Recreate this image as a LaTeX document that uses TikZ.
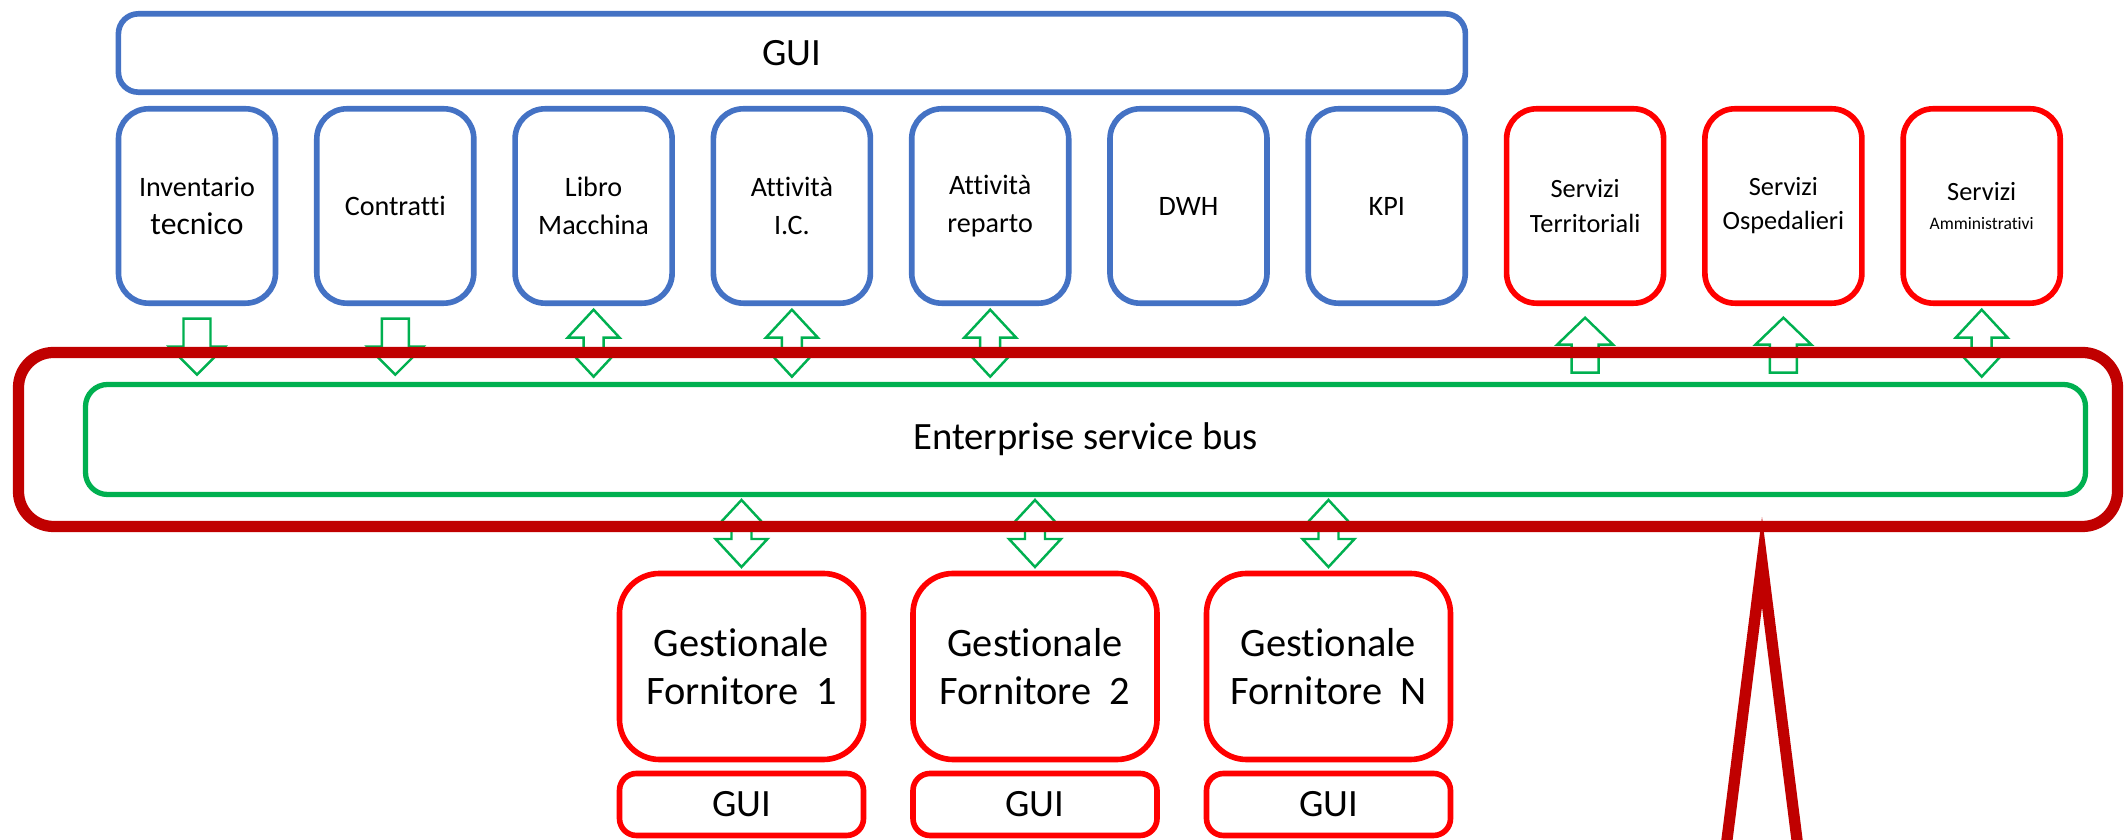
\documentclass[tikz,border=0pt]{standalone}
\usepackage{fontspec}
\setmainfont{Carlito}[Ligatures=NoCommon]
\usetikzlibrary{calc,positioning}
\definecolor{boxblue}{HTML}{4472C4}
\definecolor{boxred}{HTML}{FF0000}
\definecolor{busgreen}{HTML}{00B050}
\definecolor{darkred}{HTML}{C00000}
\tikzset{
  modbox/.style={draw, line width=1.6pt, rounded corners=0.3cm, minimum width=1.57cm,
    minimum height=1.944cm, outer sep=0pt, inner sep=1pt, align=center},
  appbox/.style={modbox, boxblue, text=black, font=\fontsize{8}{11}\selectfont},
  srvbox/.style={modbox, boxred, text=black, font=\fontsize{7.5}{9.7}\selectfont},
  guibar/.style={draw=boxblue, line width=1.6pt, rounded corners=0.2cm, minimum width=13.47cm,
    minimum height=0.784cm, outer sep=0pt, font=\fontsize{11}{13}\selectfont},
  busbar/.style={draw=busgreen, line width=1.5pt, rounded corners=0.22cm, minimum width=20cm,
    minimum height=1.1cm, outer sep=0pt, font=\fontsize{11}{13}\selectfont},
  gestbox/.style={draw=boxred, line width=1.6pt, rounded corners=0.4cm, minimum width=2.44cm,
    minimum height=1.86cm, outer sep=0pt, align=center, font=\fontsize{11.5}{13.6}\selectfont},
  gestgui/.style={draw=boxred, line width=1.6pt, rounded corners=0.17cm, minimum width=2.44cm,
    minimum height=0.62cm, outer sep=0pt, font=\fontsize{11}{13}\selectfont},
  esbframe/.style={draw=darkred, line width=3.2pt, rounded corners=0.35cm, outer sep=0pt},
  arrline/.style={draw=busgreen, fill=white, line width=0.7pt, line join=miter},
  dnarr/.pic={\path[arrline] (-0.135,0) -- (0.135,0) -- (0.135,-0.28) -- (0.28,-0.28)
    -- (0,-0.56) -- (-0.28,-0.28) -- (-0.135,-0.28) -- cycle;},
  uparr/.pic={\path[arrline] (0,0) -- (0.28,-0.27) -- (0.135,-0.27) -- (0.135,-0.55)
    -- (-0.135,-0.55) -- (-0.135,-0.27) -- (-0.28,-0.27) -- cycle;},
  dblarr/.pic={\path[arrline] (0,0) -- (0.26,-0.28) -- (0.1,-0.28) -- (0.1,-0.39) -- (0.26,-0.39)
    -- (0,-0.67) -- (-0.26,-0.39) -- (-0.1,-0.39) -- (-0.1,-0.28) -- (-0.26,-0.28) -- cycle;}
}

\begin{document}
\begin{tikzpicture}
  \useasboundingbox (0,0) rectangle (21.26,8.4);
  \clip (0,0) rectangle (21.26,8.4);
  % moduli applicativi
  \node[appbox] (inv) at (1.97,6.34) {Inventario\\{\fontsize{9}{11}\selectfont tecnico}};
  \node[appbox, right=0.413cm of inv] (contr) {Contratti};
  \node[appbox, right=0.413cm of contr] (libro) {Libro\\Macchina};
  \node[appbox, right=0.413cm of libro] (attic) {Attività\\I.C.};
  \node[appbox, right=0.413cm of attic] (attrep) {Attività\\reparto};
  \node[appbox, right=0.413cm of attrep] (dwh) {DWH};
  \node[appbox, right=0.413cm of dwh] (kpi) {KPI};
  % servizi
  \node[srvbox, right=0.413cm of kpi] (srvter) {Servizi\\Territoriali};
  \node[srvbox, right=0.413cm of srvter] (srvosp) {Servizi\\Ospedalieri};
  \node[srvbox, right=0.413cm of srvosp] (srvamm) {Servizi\\[-1.5pt]{\fontsize{5}{6}\selectfont Amministrativi}};
  % GUI
  \coordinate (guimid) at ($(inv.north west)!0.5!(kpi.north east)$);
  \node[guibar, above=0.166cm of guimid] (gui) {GUI};
  % bus
  \node[busbar] (bus) at (10.855,4.005) {Enterprise service bus};
  % gestionali fornitori
  \node[gestbox] (gest1) at (7.415,1.735) {Gestionale\\Fornitore\hspace{0.45em}1};
  \node[gestbox, right=0.495cm of gest1] (gest2) {Gestionale\\Fornitore\hspace{0.45em}2};
  \node[gestbox, right=0.495cm of gest2] (gestn) {Gestionale\\Fornitore\hspace{0.45em}N};
  \foreach \g in {gest1,gest2,gestn} {
    \node[gestgui, below=0.14cm of \g] (\g gui) {GUI};
  }
  % frecce
  \foreach \n in {inv,contr} \pic at ($(\n.south)+(0,-0.155)$) {dnarr};
  \foreach \n in {libro,attic,attrep,srvamm} \pic at ($(\n.south)+(0,-0.065)$) {dblarr};
  \foreach \n in {srvter,srvosp} \pic at ($(\n.south)+(0,-0.145)$) {uparr};
  \foreach \g in {gest1,gest2,gestn} \pic at ($(\g |- bus.south)+(0,-0.055)$) {dblarr};
  % cornice ESB
  \node[esbframe, minimum width=20.99cm, minimum height=1.74cm] (frame)
    at ($(bus.center)+(-0.175,0)$) {};
  \coordinate (tip) at ($(frame.south west)+(17.435,-0.355)$);
  \draw[darkred, line width=3.2pt, line join=miter]
    ($(tip)+(-0.426,-3.38)$) -- (tip) -- ($(tip)+(0.426,-3.38)$);
\end{tikzpicture}
\end{document}
